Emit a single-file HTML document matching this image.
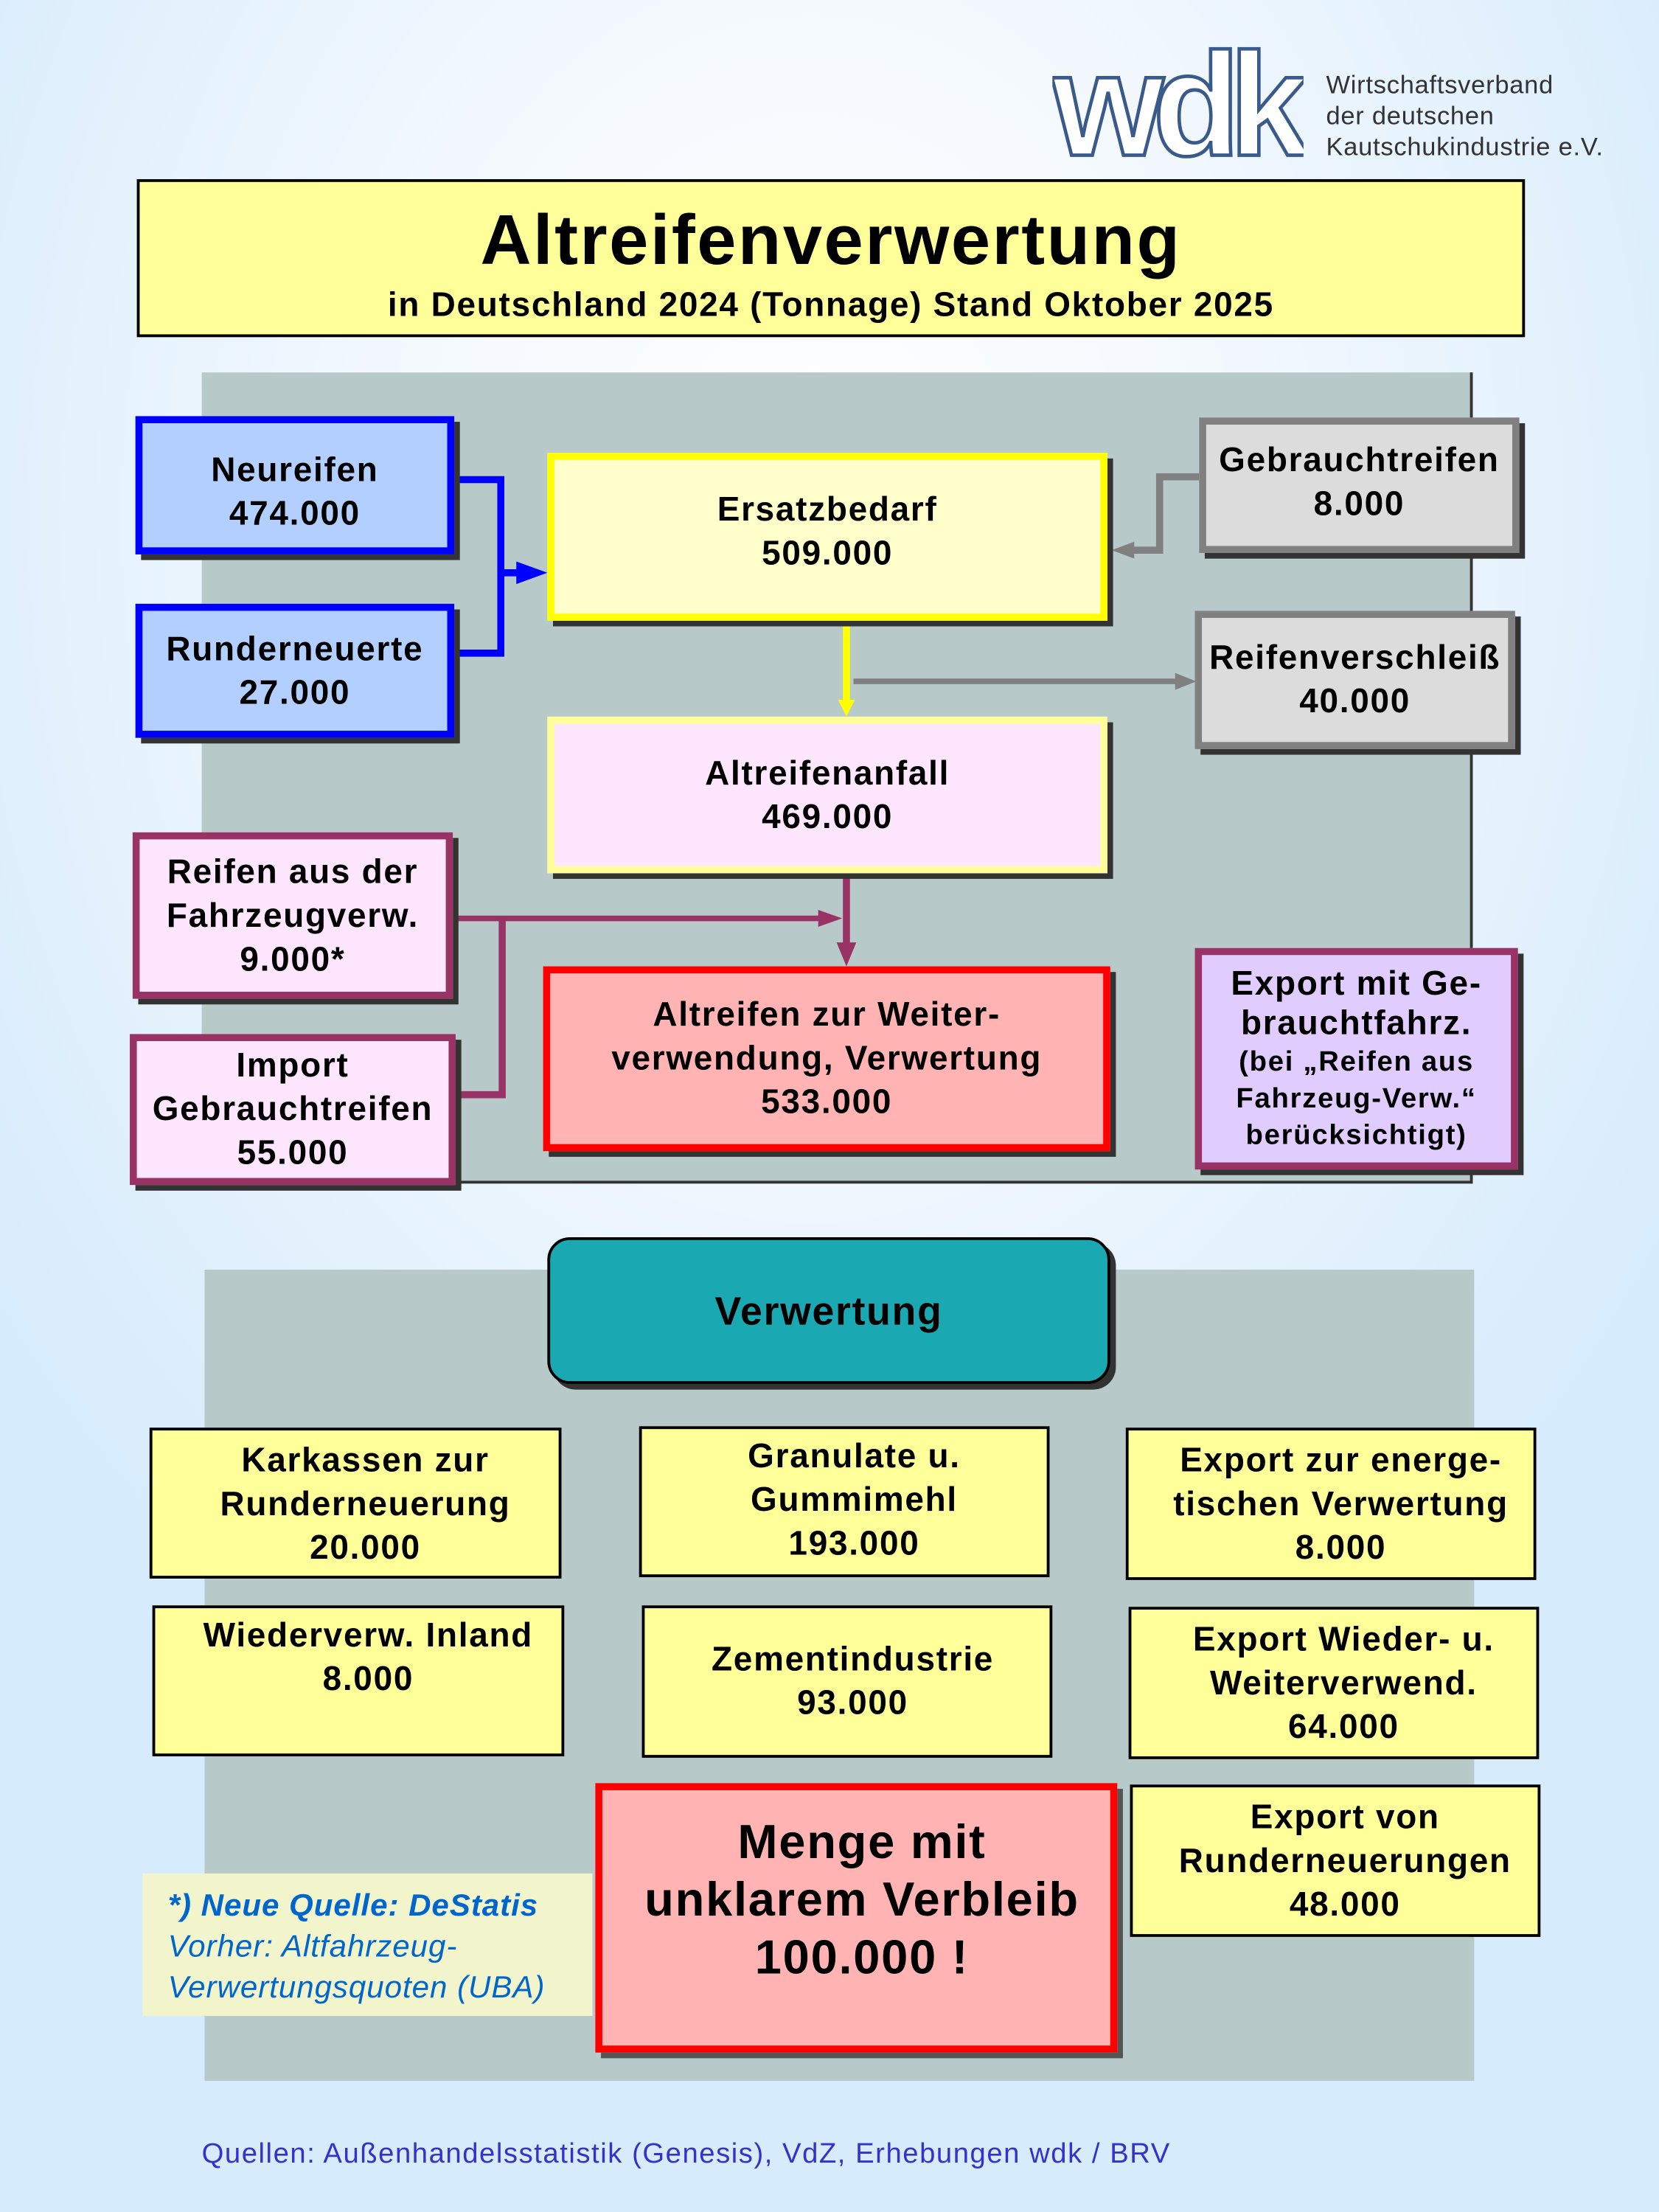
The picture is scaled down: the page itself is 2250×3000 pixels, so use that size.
<!DOCTYPE html>
<html><head><meta charset="utf-8"><style>
html,body{margin:0;padding:0;width:2250px;height:3000px;overflow:hidden}
body{background:radial-gradient(ellipse 1400px 1800px at 1100px 700px,#ffffff 0%,#f4f9fe 40%,#d6ebfc 100%)}
#w{position:absolute;left:0;top:0;width:1176px;height:1568px;transform:scale(1.91327);transform-origin:0 0;font-family:"Liberation Sans",Arial,sans-serif}
.b{position:absolute;box-sizing:border-box;display:flex;flex-direction:column;justify-content:center;align-items:center;text-align:center;font-weight:bold;font-size:24px;line-height:31px;color:#000;box-shadow:4px 4px 0 #333;letter-spacing:0.9px}
.y{background:#ffff99;border:2px solid #000;box-shadow:none;justify-content:flex-start;padding-top:6px}
.p{position:absolute}
</style></head><body><div id="w">
<svg class="p" style="left:746px;top:30px" width="178" height="86" viewBox="0 0 178 86"><text x="0" y="80" font-family="Liberation Sans,Arial,sans-serif" font-weight="bold" font-size="104" letter-spacing="-8" fill="#fff" stroke="#3a5a8c" stroke-width="2.5" textLength="174" lengthAdjust="spacingAndGlyphs">wdk</text></svg>
<div class="p" style="left:940px;top:49px;font-size:18px;line-height:22px;color:#333;letter-spacing:0.4px">Wirtschaftsverband<br>der deutschen<br>Kautschukindustrie e.V.</div>
<div class="p" style="left:97px;top:127px;width:984px;height:112px;box-sizing:border-box;background:#ffff99;border:2px solid #000;text-align:center;font-weight:bold"><div style="font-size:50px;line-height:50px;margin-top:16px;letter-spacing:1.3px">Altreifenverwertung</div><div style="font-size:24px;margin-top:8px;letter-spacing:0.9px">in Deutschland 2024 (Tonnage) Stand Oktober 2025</div></div>
<div class="p" style="left:143px;top:264px;width:901px;height:575px;box-sizing:border-box;background:#b8c9c9;border-right:2px solid #333;border-bottom:2px solid #333"></div>
<div class="p" style="left:145px;top:900px;width:900px;height:575px;background:#b8c9c9"></div>
<svg class="p" style="left:0;top:0" width="1176" height="1568">
<g fill="none" stroke-width="5">
<polyline points="322,340 355,340 355,463 322,463" stroke="#0000ff"/>
<line x1="355" y1="406" x2="372" y2="406" stroke="#0000ff"/>
<polyline points="850,338 822,338 822,390 800,390" stroke="#808080"/>
<line x1="605" y1="483" x2="835" y2="483" stroke="#808080" stroke-width="4"/>
<line x1="600" y1="441" x2="600" y2="497" stroke="#ffff00"/>
<line x1="600" y1="620" x2="600" y2="672" stroke="#993366"/>
<line x1="321" y1="651" x2="582" y2="651" stroke="#993366" stroke-width="4"/>
<polyline points="356,651 356,776 323,776" stroke="#993366"/>
</g>
<polygon points="366,398 388,406 366,414" fill="#0000ff"/>
<polygon points="788,390 804,384 804,396" fill="#808080"/>
<polygon points="833,477 848,483 833,489" fill="#808080"/>
<polygon points="594,496 606,496 600,508" fill="#ffff00"/>
<polygon points="580,645 597,651 580,657" fill="#993366"/>
<polygon points="593,668 607,668 600,685" fill="#993366"/>
</svg>
<div class="b" style="left:96px;top:295px;width:226px;height:98px;background:#b3cfff;border:5px solid #0000ff;padding-top:10px">Neureifen<br>474.000</div>
<div class="b" style="left:96px;top:428px;width:226px;height:95px;background:#b3cfff;border:5px solid #0000ff">Runderneuerte<br>27.000</div>
<div class="b" style="left:388px;top:321px;width:397px;height:119px;background:#ffffcc;border:5px solid #ffff00;padding-bottom:8px">Ersatzbedarf<br>509.000</div>
<div class="b" style="left:850px;top:296px;width:227px;height:96px;background:#dcdcdc;border:5px solid #808080;justify-content:flex-start;padding-top:10px">Gebrauchtreifen<br>8.000</div>
<div class="b" style="left:847px;top:433px;width:227px;height:98px;background:#dcdcdc;border:5px solid #808080">Reifenverschleiß<br>40.000</div>
<div class="b" style="left:388px;top:508px;width:397px;height:111px;background:#ffe6ff;border:5px solid #ffff99">Altreifenanfall<br>469.000</div>
<div class="b" style="left:94px;top:590px;width:227px;height:118px;background:#ffe6ff;border:5px solid #993366">Reifen aus der<br>Fahrzeugverw.<br>9.000*</div>
<div class="b" style="left:92px;top:733px;width:231px;height:107px;background:#ffe6ff;border:5px solid #993366">Import<br>Gebrauchtreifen<br>55.000</div>
<div class="b" style="left:385px;top:685px;width:402px;height:131px;background:#ffb3b3;border:5px solid #ff0000">Altreifen zur Weiter-<br>verwendung, Verwertung<br>533.000</div>
<div class="b" style="left:847px;top:672px;width:229px;height:157px;background:#e0ccff;border:5px solid #993366;line-height:28px"><span>Export mit Ge-<br>brauchtfahrz.</span><span style="font-size:20px;line-height:26px">(bei „Reifen aus<br>Fahrzeug-Verw.“<br>berücksichtigt)</span></div>
<div class="b" style="left:388px;top:877px;width:399px;height:104px;background:#1aa9b3;border:2px solid #000;border-radius:16px;font-size:28px">Verwertung</div>
<div class="b y" style="left:106px;top:1012px;width:292px;height:107px;padding-left:14px">Karkassen zur<br>Runderneuerung<br>20.000</div>
<div class="b y" style="left:453px;top:1011px;width:291px;height:107px;padding-top:4px;padding-left:14px">Granulate u.<br>Gummimehl<br>193.000</div>
<div class="b y" style="left:798px;top:1012px;width:291px;height:108px;padding-left:14px">Export zur energe-<br>tischen Verwertung<br>8.000</div>
<div class="b y" style="left:108px;top:1138px;width:292px;height:107px;padding-top:4px;padding-left:14px">Wiederverw. Inland<br>8.000</div>
<div class="b y" style="left:455px;top:1138px;width:291px;height:108px;justify-content:center;padding-top:0;padding-left:8px">Zementindustrie<br>93.000</div>
<div class="b y" style="left:800px;top:1139px;width:291px;height:108px;padding-left:14px">Export Wieder- u.<br>Weiterverwend.<br>64.000</div>
<div class="b y" style="left:801px;top:1265px;width:291px;height:108px;padding-left:14px">Export von<br>Runderneuerungen<br>48.000</div>
<div class="p" style="left:101px;top:1328px;width:319px;height:101px;background:#f2f4cc;color:#0066cc;font-style:italic;font-size:22px;line-height:29px;box-sizing:border-box;padding:8px 0 0 18px;letter-spacing:0.5px"><b>*) Neue Quelle: DeStatis</b><br>Vorher: Altfahrzeug-<br>Verwertungsquoten (UBA)</div>
<div class="b" style="left:422px;top:1264px;width:370px;height:191px;background:#ffb3b3;border:5px solid #ff0000;font-size:34px;line-height:41px;box-shadow:4px 4px 0 #555;padding-bottom:24px;padding-left:8px">Menge mit<br>unklarem Verbleib<br>100.000 !</div>
<div class="p" style="left:143px;top:1516px;font-size:20px;color:#3333cc;letter-spacing:0.8px">Quellen: Außenhandelsstatistik (Genesis), VdZ, Erhebungen wdk / BRV</div>
</div></body></html>
